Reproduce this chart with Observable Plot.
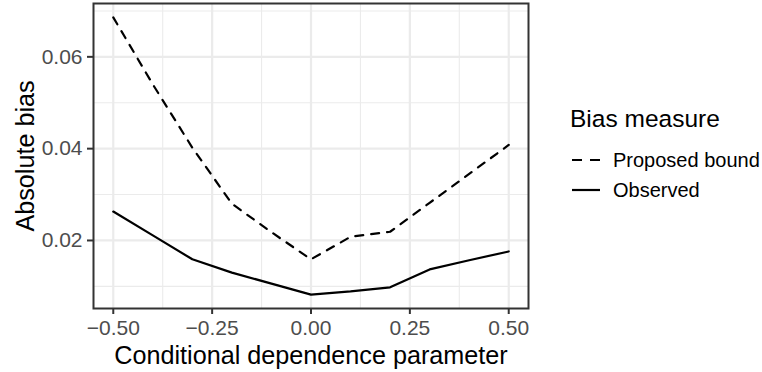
<!DOCTYPE html>
<html>
<head>
<meta charset="utf-8">
<script src="https://cdn.jsdelivr.net/npm/d3@7"></script>
<script src="https://cdn.jsdelivr.net/npm/@observablehq/plot@0.6"></script>
<style>
  html, body { margin: 0; padding: 0; background: white; }
  #wrap { position: relative; width: 762px; height: 372px; font-family: "Liberation Sans", Arial, Helvetica, sans-serif; }
  #legend { position: absolute; left: 0; top: 0; pointer-events: none; }
</style>
</head>
<body>
<div id="wrap"></div>
<script>
// ---- data ----
const dependence = [-0.5, -0.4, -0.3, -0.2, -0.1, 0, 0.1, 0.2, 0.3, 0.4, 0.5];
const proposedBound = [0.0686, 0.0540, 0.0402, 0.0280, 0.0218, 0.0159, 0.0208, 0.0219, 0.0282, 0.0345, 0.0408];
const observedBias = [0.0263, 0.0211, 0.0159, 0.0130, 0.0106, 0.0082, 0.0089, 0.0098, 0.0137, 0.0157, 0.0176];
const seriesNames = ["Proposed bound", "Observed"];
const xTicks = [-0.5, -0.25, 0, 0.25, 0.5];
const xMinorTicks = [-0.375, -0.125, 0.125, 0.375];
const yTicks = [0.02, 0.04, 0.06];
const yMinorTicks = [0.01, 0.03, 0.05, 0.07];
const xTitle = "Conditional dependence parameter";
const yTitle = "Absolute bias";
const legendTitle = "Bias measure";

// ---- build table ----
const rows = dependence.flatMap((d, i) => [
  {x: d, y: proposedBound[i], s: seriesNames[0]},
  {x: d, y: observedBias[i], s: seriesNames[1]}
]);

// ggplot-style 5% expansion
const xr = d3.extent(dependence), xe = (xr[1] - xr[0]) * 0.05;
const allY = proposedBound.concat(observedBias);
const yr = d3.extent(allY), ye = (yr[1] - yr[0]) * 0.05;

const font = "Liberation Sans, Arial, Helvetica, sans-serif";
const fmt = d3.format(".2f");
const gridCol = "#EBEBEB";

const chart = Plot.plot({
  width: 762,
  height: 372,
  marginLeft: 93,
  marginRight: 234,
  marginTop: 3,
  marginBottom: 64,
  style: {fontFamily: font, background: "white", overflow: "visible"},
  x: {domain: [xr[0] - xe, xr[1] + xe]},
  y: {domain: [yr[0] - ye, yr[1] + ye]},
  marks: [
    Plot.gridX(xMinorTicks, {stroke: gridCol, strokeOpacity: 1, strokeWidth: 1.1}),
    Plot.gridY(yMinorTicks, {stroke: gridCol, strokeOpacity: 1, strokeWidth: 1.1}),
    Plot.gridX(xTicks, {stroke: gridCol, strokeOpacity: 1, strokeWidth: 2.2}),
    Plot.gridY(yTicks, {stroke: gridCol, strokeOpacity: 1, strokeWidth: 2.2}),
    Plot.line(rows, {filter: d => d.s === seriesNames[0], x: "x", y: "y", stroke: "black", strokeWidth: 2.2, strokeDasharray: "8,8"}),
    Plot.line(rows, {filter: d => d.s === seriesNames[1], x: "x", y: "y", stroke: "black", strokeWidth: 2.2}),
    Plot.frame({stroke: "#333333", strokeWidth: 2}),
    Plot.axisX(xTicks, {tickSize: 6, tickPadding: 6, tickFormat: fmt, fontSize: 21, stroke: "#333333", strokeWidth: 2, fill: "#4D4D4D", label: null}),
    Plot.axisY(yTicks, {tickSize: 6, tickPadding: 5, tickFormat: fmt, fontSize: 21, stroke: "#333333", strokeWidth: 2, fill: "#4D4D4D", label: null}),
    Plot.text([xTitle], {frameAnchor: "bottom", textAnchor: "middle", lineAnchor: "bottom", dy: 55, fontSize: 25.2, fill: "black", text: d => d}),
    Plot.text([yTitle], {frameAnchor: "left", textAnchor: "middle", lineAnchor: "bottom", rotate: -90, dx: -60, fontSize: 25.2, fill: "black", text: d => d})
  ]
});

const wrap = document.getElementById("wrap");
wrap.appendChild(chart);

// ---- legend (right side) ----
const ns = "http://www.w3.org/2000/svg";
const leg = document.createElementNS(ns, "svg");
leg.setAttribute("id", "legend");
leg.setAttribute("width", 762);
leg.setAttribute("height", 372);
leg.style.fontFamily = font;
function addText(str, x, y, size, color) {
  const t = document.createElementNS(ns, "text");
  t.setAttribute("x", x); t.setAttribute("y", y);
  t.setAttribute("font-size", size); t.setAttribute("fill", color);
  t.textContent = str;
  leg.appendChild(t);
}
function addKey(y, dash) {
  const l = document.createElementNS(ns, "line");
  l.setAttribute("x1", 572); l.setAttribute("x2", 600);
  l.setAttribute("y1", y); l.setAttribute("y2", y);
  l.setAttribute("stroke", "black"); l.setAttribute("stroke-width", 2.2);
  if (dash) l.setAttribute("stroke-dasharray", dash);
  leg.appendChild(l);
}
addText(legendTitle, 570, 127, 24.5, "black");
addKey(160, "10,8");
addText(seriesNames[0], 613, 167, 20, "black");
addKey(190, null);
addText(seriesNames[1], 613, 197, 20, "black");
wrap.appendChild(leg);
</script>
</body>
</html>
